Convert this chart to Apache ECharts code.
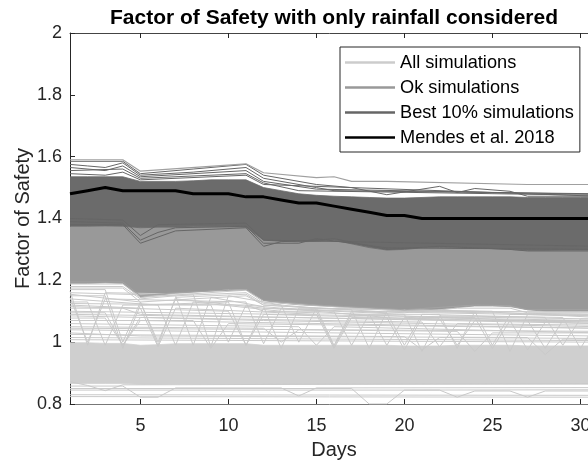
<!DOCTYPE html>
<html>
<head>
<meta charset="utf-8">
<script src="https://cdn.jsdelivr.net/npm/echarts@6/dist/echarts.min.js"></script>
<style>
  html, body { margin: 0; padding: 0; background: #fff; }
  #chart { width: 588px; height: 460px; }
</style>
</head>
<body>
<div id="chart"></div>
<script>
  // ---- data ----
  const days = [1, 2, 3, 4, 5, 6, 7, 8, 9, 10, 11, 12, 13, 14, 15, 16, 17, 18, 19, 20, 21, 22, 23, 24, 25, 26, 27, 28, 29, 30, 31];
  const xTicks = [5, 10, 15, 20, 25, 30];
  const yTicks = [0.8, 1, 1.2, 1.4, 1.6, 1.8, 2];

  const mendes = [1.48, 1.49, 1.50, 1.49, 1.49, 1.49, 1.49, 1.48, 1.48, 1.48, 1.47, 1.47, 1.46, 1.45, 1.45, 1.44, 1.43, 1.42, 1.41, 1.41, 1.40, 1.40, 1.40, 1.40, 1.40, 1.40, 1.40, 1.40, 1.40, 1.40, 1.40];

  // dense envelopes of the three simulation groups
  const bestTop = [1.535, 1.535, 1.535, 1.535, 1.52, 1.52, 1.52, 1.522, 1.525, 1.525, 1.525, 1.50, 1.49, 1.48, 1.475, 1.472, 1.47, 1.468, 1.466, 1.466, 1.468, 1.47, 1.47, 1.47, 1.47, 1.47, 1.468, 1.468, 1.468, 1.468, 1.468];
  const bestBottom = [1.375, 1.375, 1.376, 1.375, 1.37, 1.372, 1.372, 1.373, 1.373, 1.373, 1.372, 1.33, 1.326, 1.325, 1.326, 1.33, 1.318, 1.306, 1.298, 1.30, 1.305, 1.306, 1.305, 1.303, 1.303, 1.30, 1.297, 1.297, 1.298, 1.298, 1.298];
  const okBottom = [1.19, 1.19, 1.192, 1.19, 1.145, 1.152, 1.158, 1.162, 1.166, 1.17, 1.172, 1.135, 1.126, 1.121, 1.118, 1.115, 1.112, 1.11, 1.106, 1.102, 1.10, 1.105, 1.112, 1.117, 1.117, 1.115, 1.105, 1.10, 1.10, 1.10, 1.10];
  const allTop = [0.998, 0.998, 0.996, 0.996, 0.99, 0.992, 0.995, 0.995, 0.995, 0.995, 0.995, 0.99, 0.99, 0.99, 0.99, 0.99, 0.99, 0.99, 0.99, 0.988, 0.988, 0.988, 0.99, 0.99, 0.99, 0.99, 0.988, 0.988, 0.988, 0.988, 0.988];
  const allBottom = [0.866, 0.866, 0.866, 0.866, 0.864, 0.864, 0.865, 0.865, 0.865, 0.865, 0.865, 0.864, 0.864, 0.864, 0.864, 0.864, 0.864, 0.864, 0.864, 0.864, 0.864, 0.864, 0.864, 0.864, 0.864, 0.864, 0.864, 0.864, 0.864, 0.864, 0.864];

  // individual traces outside the dense envelopes, as [day, FoS] breakpoints
  const bestLines = [
    [[1, 1.585], [4, 1.585], [5, 1.545], [8, 1.56], [11, 1.575], [12, 1.54], [15, 1.51], [17, 1.5], [19, 1.477], [22, 1.504], [23, 1.484], [24, 1.497], [26, 1.488], [27, 1.472], [31, 1.472]],
    [[1, 1.575], [2, 1.57], [3, 1.565], [4, 1.58], [5, 1.54], [8, 1.55], [11, 1.565], [12, 1.53], [15, 1.5], [16, 1.49], [31, 1.48]],
    [[1, 1.565], [3, 1.555], [4, 1.57], [5, 1.535], [11, 1.555], [12, 1.52], [15, 1.495], [31, 1.478]],
    [[1, 1.555], [4, 1.56], [5, 1.53], [11, 1.545], [12, 1.515], [14, 1.49], [31, 1.475]],
    [[1, 1.545], [3, 1.54], [4, 1.55], [5, 1.525], [11, 1.54], [12, 1.51], [31, 1.472]],
    [[1, 1.38], [4, 1.38], [5, 1.32], [7, 1.36], [11, 1.37], [12, 1.31], [13, 1.325], [15, 1.33], [16, 1.335], [19, 1.30], [22, 1.31], [26, 1.30], [27, 1.295], [31, 1.295]],
    [[1, 1.39], [4, 1.385], [5, 1.33], [6, 1.355], [7, 1.37], [11, 1.375], [12, 1.32], [14, 1.32], [15, 1.335], [19, 1.305], [31, 1.30]],
    [[1, 1.40], [4, 1.395], [5, 1.345], [6, 1.38], [11, 1.385], [12, 1.33], [31, 1.31]]
  ];
  const okLines = [
    [[1, 1.59], [4, 1.59], [5, 1.553], [11, 1.577], [12, 1.548], [15, 1.532], [16, 1.535], [17, 1.52], [19, 1.52], [27, 1.51], [31, 1.51]],
    [[1, 1.195], [4, 1.195], [5, 1.15], [7, 1.16], [11, 1.17], [12, 1.135], [15, 1.12], [20, 1.105], [24, 1.12], [26, 1.118], [27, 1.105], [31, 1.105]]
  ];
  const allLines = [
    [[1, 1.188], [4, 1.188], [5, 1.145], [11, 1.168], [12, 1.13], [20, 1.1], [31, 1.098]],
    [[1, 1.18], [4, 1.18], [5, 1.14], [7, 1.15], [11, 1.16], [12, 1.125], [15, 1.11], [20, 1.095], [23, 1.11], [26, 1.11], [27, 1.095], [31, 1.095]],
    [[1, 1.175], [4, 1.175], [5, 1.13], [6, 0.99], [7, 1.145], [11, 1.155], [12, 1.12], [15, 1.11], [16, 0.99], [17, 1.1], [31, 1.085]],
    [[1, 1.17], [3, 1.17], [4, 1.0], [5, 1.13], [11, 1.15], [12, 1.12], [17, 1.105], [18, 0.98], [19, 1.1], [31, 1.09]],
    [[1, 1.165], [2, 0.99], [3, 1.16], [8, 1.155], [9, 0.985], [10, 1.15], [13, 1.12], [14, 1.0], [15, 1.11], [25, 1.1], [26, 0.97], [27, 1.09], [31, 1.09]],
    [[1, 1.16], [7, 1.15], [8, 0.99], [9, 1.145], [12, 1.115], [13, 0.98], [14, 1.11], [24, 1.1], [25, 0.99], [26, 1.09], [31, 1.085]],
    [[1, 1.155], [5, 1.13], [6, 1.0], [7, 1.14], [12, 1.11], [16, 1.1], [17, 0.99], [18, 1.09], [22, 1.09], [23, 0.98], [24, 1.1], [31, 1.08]],
    [[1, 1.15], [3, 1.15], [4, 0.98], [5, 1.12], [10, 1.13], [11, 0.99], [12, 1.11], [20, 1.09], [21, 0.97], [22, 1.085], [29, 1.08], [30, 0.98], [31, 1.07]],
    [[1, 1.145], [2, 1.0], [3, 1.14], [11, 1.13], [12, 0.995], [13, 1.11], [19, 1.095], [20, 0.99], [21, 1.09], [28, 1.08], [29, 0.99], [30, 1.075], [31, 1.075]],
    [[1, 1.14], [6, 1.12], [7, 0.99], [8, 1.13], [13, 1.1], [15, 1.1], [16, 0.985], [17, 1.09], [27, 1.07], [28, 0.98], [29, 1.07], [31, 1.07]],
    [[1, 1.13], [2, 1.13], [3, 0.99], [4, 1.12], [9, 1.12], [10, 1.0], [11, 1.12], [19, 1.08], [20, 0.975], [21, 1.08], [24, 1.08], [25, 0.98], [26, 1.07], [31, 1.07]],
    [[1, 1.125], [11, 1.12], [12, 1.1], [18, 1.09], [19, 0.99], [20, 1.08], [31, 1.07]],
    [[1, 1.12], [5, 1.11], [6, 0.985], [7, 1.11], [15, 1.09], [16, 0.98], [17, 1.08], [26, 1.07], [27, 0.975], [28, 1.065], [31, 1.06]],
    [[1, 1.115], [10, 1.1], [11, 0.99], [12, 1.09], [22, 1.075], [23, 0.99], [24, 1.07], [31, 1.065]],
    [[1, 1.11], [4, 1.11], [5, 1.09], [31, 1.06]],
    [[1, 1.10], [31, 1.075]],
    [[1, 1.095], [3, 1.095], [4, 0.99], [5, 1.08], [21, 1.065], [22, 0.985], [23, 1.06], [31, 1.055]],
    [[1, 1.09], [31, 1.065]],
    [[1, 1.085], [5, 1.08], [12, 1.07], [31, 1.05]],
    [[1, 1.078], [3, 1.078], [4, 0.99], [5, 1.07], [31, 1.045]],
    [[1, 1.07], [8, 1.07], [9, 0.98], [10, 1.06], [31, 1.045]],
    [[1, 1.06], [14, 1.05], [15, 0.99], [16, 1.05], [31, 1.03]],
    [[1, 1.05], [12, 1.045], [13, 1.0], [14, 1.04], [23, 1.035], [24, 0.97], [25, 1.03], [31, 1.03]],
    [[1, 1.045], [31, 1.035]],
    [[1, 1.04], [31, 1.02]],
    [[1, 1.03], [5, 1.02], [27, 1.015], [28, 0.96], [29, 1.01], [31, 1.01]],
    [[1, 1.025], [20, 1.018], [21, 0.975], [22, 1.015], [31, 1.012]],
    [[1, 1.015], [31, 1.005]],
    [[1, 1.008], [31, 1.0]],
    [[1, 0.872], [2, 0.86], [3, 0.843], [4, 0.862], [31, 0.866]],
    [[1, 0.858], [4, 0.858], [5, 0.822], [6, 0.822], [7, 0.852], [13, 0.852], [14, 0.826], [15, 0.852], [31, 0.853]],
    [[1, 0.85], [17, 0.85], [18, 0.8], [19, 0.8], [20, 0.845], [31, 0.846]],
    [[1, 0.845], [22, 0.845], [23, 0.822], [24, 0.842], [26, 0.842], [27, 0.822], [28, 0.842], [31, 0.842]],
    [[1, 0.83], [31, 0.828]],
    [[1, 0.824], [31, 0.822]]
  ];

  // ---- chart ----
  const FONT = '"Liberation Sans", Arial, sans-serif';
  const AXIS = "#262626";
  const C_ALL = "#cccccc";
  const C_OK = "#999999";
  const C_BEST = "#6b6b6b";

  const lineSeries = (name, data, color, width) => ({
    name: name,
    type: "line",
    data: data,
    color: color,
    symbol: "none",
    silent: true,
    lineStyle: { color: color, width: width }
  });

  // filled envelope between two per-day arrays, placed with the axis scales
  const band = (id, bottom, top, color) => ({
    name: id,
    type: "custom",
    silent: true,
    clip: true,
    data: [0],
    renderItem: (params, api) => {
      const upper = days.map((d, i) => api.coord([d, top[i]]));
      const lower = days.map((d, i) => api.coord([d, bottom[i]])).reverse();
      return {
        type: "polygon",
        shape: { points: upper.concat(lower) },
        style: { fill: color, stroke: color, lineWidth: 0.8 }
      };
    }
  });

  const series = [].concat(
    [band("allBand", allBottom, allTop, "#cfcfcf")],
    allLines.map((l) => lineSeries("All simulations", l, "#c9c9c9", 1)),
    [band("okBand", okBottom, bestBottom, C_OK)],
    okLines.slice(1).map((l) => lineSeries("Ok simulations", l, "#a3a3a3", 1)),
    [band("bestBand", bestBottom, bestTop, C_BEST)],
    bestLines.map((l) => lineSeries("Best 10% simulations", l, "#666666", 1)),
    [lineSeries("Ok simulations", okLines[0], "#a0a0a0", 1.2)],
    [lineSeries("Mendes et al. 2018", days.map((d, i) => [d, mendes[i]]), "#000000", 3)]
  );

  const chart = echarts.init(document.getElementById("chart"), null, { renderer: "canvas" });
  chart.setOption({
    animation: false,
    backgroundColor: "#ffffff",
    textStyle: { fontFamily: FONT },
    graphic: [
      {
        type: "text",
        x: 334,
        y: 18,
        style: {
          text: "Factor of Safety with only rainfall considered",
          font: "bold 21px " + FONT,
          fill: "#000000",
          align: "center",
          verticalAlign: "middle"
        }
      }
    ],
    grid: { left: 70, top: 33, right: -10, bottom: 56, containLabel: false, outerBoundsMode: "none" },
    legend: {
      left: 340,
      top: 47,
      orient: "vertical",
      backgroundColor: "#ffffff",
      borderColor: "#262626",
      borderWidth: 1,
      borderRadius: 0,
      padding: [6, 6, 5, 5],
      itemWidth: 50,
      itemHeight: 2.5,
      itemGap: 6,
      icon: "rect",
      selectedMode: false,
      textStyle: { fontSize: 18.2, color: "#000000", fontFamily: FONT, lineHeight: 19 },
      data: [
        { name: "All simulations", itemStyle: { color: C_ALL } },
        { name: "Ok simulations", itemStyle: { color: C_OK } },
        { name: "Best 10% simulations", itemStyle: { color: "#666666" } },
        { name: "Mendes et al. 2018", itemStyle: { color: "#000000" } }
      ]
    },
    xAxis: [
      {
        type: "value",
        min: 1,
        max: 31,
        position: "bottom",
        name: "Days",
        nameLocation: "middle",
        nameGap: 36,
        nameMoveOverlap: false,
        nameTextStyle: { fontSize: 20, color: AXIS, fontFamily: FONT },
        axisLine: { lineStyle: { color: "#777777", width: 1 } },
        axisTick: { inside: true, length: 5, customValues: xTicks, lineStyle: { color: AXIS } },
        axisLabel: { customValues: xTicks, fontSize: 18, color: AXIS, margin: 13, fontFamily: FONT },
        splitLine: { show: false }
      },
      {
        type: "value",
        min: 1,
        max: 31,
        position: "top",
        axisLine: { onZero: false, lineStyle: { color: "#444444", width: 1 } },
        axisTick: { inside: true, length: 5, customValues: xTicks, lineStyle: { color: AXIS } },
        axisLabel: { show: false },
        splitLine: { show: false }
      }
    ],
    yAxis: [
      {
        type: "value",
        min: 0.8,
        max: 2,
        name: "Factor of Safety",
        nameLocation: "middle",
        nameGap: 37,
        nameMoveOverlap: false,
        nameTextStyle: { fontSize: 20, color: AXIS, fontFamily: FONT },
        axisLine: { show: true, onZero: false, lineStyle: { color: AXIS, width: 1 } },
        axisTick: { show: true, inside: true, length: 5, customValues: yTicks, lineStyle: { color: AXIS } },
        axisLabel: { customValues: yTicks, fontSize: 18, color: AXIS, margin: 8, fontFamily: FONT, formatter: (v) => String(+v.toFixed(1)) },
        splitLine: { show: false }
      }
    ],
    series: series
  });
</script>
</body>
</html>
